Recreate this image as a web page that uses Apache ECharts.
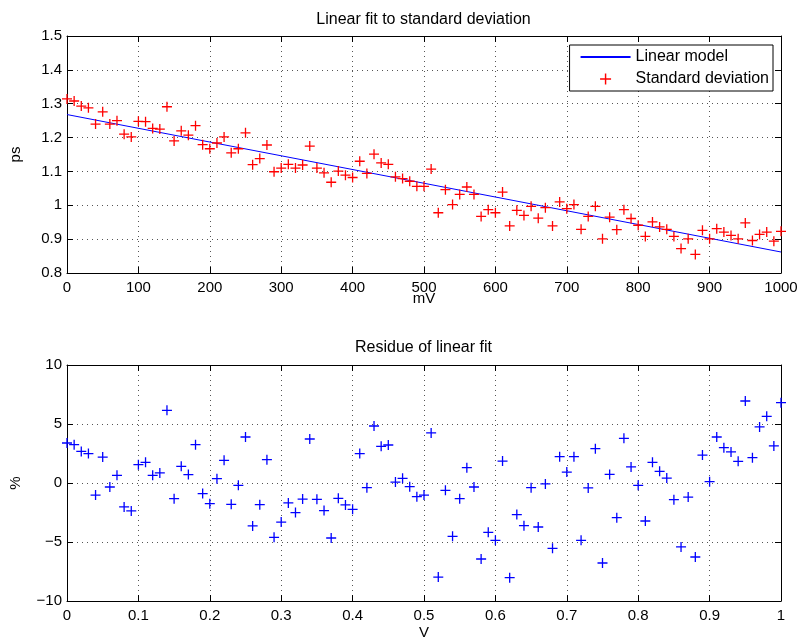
<!DOCTYPE html>
<html><head><meta charset="utf-8">
<script src="https://cdn.jsdelivr.net/npm/echarts@6/dist/echarts.min.js"></script>
<style>html,body{margin:0;padding:0;background:#fff}#c{width:801px;height:643px}</style>
</head><body><div id="c"></div>
<script>
// ---- data ----
const voltageMV = [0,10,20,30,40,50,60,70,80,90,100,110,120,130,140,150,160,170,180,190,200,210,220,230,240,250,260,270,280,290,300,310,320,330,340,350,360,370,380,390,400,410,420,430,440,450,460,470,480,490,500,510,520,530,540,550,560,570,580,590,600,610,620,630,640,650,660,670,680,690,700,710,720,730,740,750,760,770,780,790,800,810,820,830,840,850,860,870,880,890,900,910,920,930,940,950,960,970,980,990,1000];
const stdDevPs = [
1.314,1.308,1.293,1.288,1.240,1.276,1.240,1.250,1.210,1.202,
1.248,1.247,1.227,1.225,1.291,1.190,1.220,1.207,1.235,1.179,
1.167,1.184,1.202,1.155,1.167,1.214,1.120,1.138,1.178,1.099,
1.110,1.121,1.110,1.119,1.175,1.110,1.096,1.068,1.101,1.089,
1.082,1.130,1.094,1.151,1.125,1.121,1.084,1.079,1.071,1.056,
1.056,1.107,0.978,1.046,1.002,1.032,1.054,1.032,0.967,0.987,
0.978,1.039,0.939,0.985,0.970,0.997,0.962,0.993,0.939,1.010,
0.990,1.002,0.929,0.967,0.997,0.901,0.965,0.928,0.987,0.961,
0.941,0.908,0.951,0.936,0.929,0.908,0.872,0.901,0.855,0.926,
0.901,0.931,0.921,0.911,0.901,0.948,0.896,0.914,0.921,0.894,0.923];
const modelMV = [0, 1000];
const modelPs = [1.268, 0.862];
const voltageV = [0,0.01,0.02,0.03,0.04,0.05,0.06,0.07,0.08,0.09,0.1,0.11,0.12,0.13,0.14,0.15,0.16,0.17,0.18,0.19,0.2,0.21,0.22,0.23,0.24,0.25,0.26,0.27,0.28,0.29,0.3,0.31,0.32,0.33,0.34,0.35,0.36,0.37,0.38,0.39,0.4,0.41,0.42,0.43,0.44,0.45,0.46,0.47,0.48,0.49,0.5,0.51,0.52,0.53,0.54,0.55,0.56,0.57,0.58,0.59,0.6,0.61,0.62,0.63,0.64,0.65,0.66,0.67,0.68,0.69,0.7,0.71,0.72,0.73,0.74,0.75,0.76,0.77,0.78,0.79,0.8,0.81,0.82,0.83,0.84,0.85,0.86,0.87,0.88,0.89,0.9,0.91,0.92,0.93,0.94,0.95,0.96,0.97,0.98,0.99,1];
const residuePct = [
3.39,3.25,2.68,2.49,-1.02,2.20,-0.34,0.65,-2.03,-2.37,
1.55,1.75,0.65,0.85,6.16,-1.33,1.41,0.71,3.25,-0.90,
-1.75,0.37,1.92,-1.81,-0.20,3.90,-3.64,-1.84,1.98,-4.60,
-3.31,-1.69,-2.51,-1.36,3.73,-1.38,-2.34,-4.66,-1.30,-1.86,
-2.23,2.49,-0.40,4.83,3.11,3.22,0.08,0.40,-0.31,-1.16,
-1.02,4.24,-7.97,-0.62,-4.52,-1.33,1.30,-0.34,-6.44,-4.18,
-4.86,1.86,-8.02,-2.68,-3.62,-0.40,-3.73,-0.08,-5.54,2.23,
0.93,2.23,-4.86,-0.42,2.91,-6.78,0.73,-2.94,3.79,1.36,
-0.20,-3.22,1.75,0.99,0.42,-1.41,-5.42,-1.19,-6.27,2.37,
0.11,3.90,2.99,2.63,1.84,6.95,2.15,4.75,5.65,3.14,6.81];
const titles = ['Linear fit to standard deviation', 'Residue of linear fit'];
const legendNames = ['Linear model', 'Standard deviation'];

// ---- chart ----
const FONT = "'Liberation Sans', Arial, Helvetica, sans-serif";
const PLUS = 'path://M4.35,0H5.65V4.35H10V5.65H5.65V10H4.35V5.65H0V4.35H4.35Z';
const pair = (xs, ys) => xs.map((x, i) => [x, ys[i]]);
const fmtNum = v => String(v).replace('-', '\u2212');

function mainX(grid, min, max, interval, name, nameGap) {
  return {
    type: 'value', gridIndex: grid, position: 'bottom', min, max, interval,
    name, nameLocation: 'middle', nameGap, nameMoveOverlap: false,
    nameTextStyle: { color: '#000', fontSize: 15, fontFamily: FONT },
    axisLine: { show: true, onZero: false, lineStyle: { color: '#000', width: 1 } },
    axisTick: { show: true, inside: true, length: 6, lineStyle: { color: '#000' } },
    axisLabel: { show: true, color: '#000', fontSize: 15, fontFamily: FONT, margin: 7, formatter: fmtNum },
    splitLine: { show: true, lineStyle: { color: '#555', type: [1, 4], width: 1 } }
  };
}
function boxX(grid, min, max, interval) {
  return {
    type: 'value', gridIndex: grid, position: 'top', min, max, interval,
    axisLine: { show: true, onZero: false, lineStyle: { color: '#000', width: 1 } },
    axisTick: { show: true, inside: true, length: 6, lineStyle: { color: '#000' } },
    axisLabel: { show: false }, splitLine: { show: false }
  };
}
function mainY(grid, min, max, interval, name, nameGap) {
  return {
    type: 'value', gridIndex: grid, position: 'left', min, max, interval,
    name, nameLocation: 'middle', nameGap, nameMoveOverlap: false,
    nameTextStyle: { color: '#000', fontSize: 15, fontFamily: FONT },
    axisLine: { show: true, onZero: false, lineStyle: { color: '#000', width: 1 } },
    axisTick: { show: true, inside: true, length: 6, lineStyle: { color: '#000' } },
    axisLabel: { show: true, color: '#000', fontSize: 15, fontFamily: FONT, margin: 5, formatter: fmtNum },
    splitLine: { show: true, lineStyle: { color: '#555', type: [1, 4], width: 1 } }
  };
}
function boxY(grid, min, max, interval) {
  return {
    type: 'value', gridIndex: grid, position: 'right', min, max, interval,
    axisLine: { show: true, onZero: false, lineStyle: { color: '#000', width: 1 } },
    axisTick: { show: true, inside: true, length: 6, lineStyle: { color: '#000' } },
    axisLabel: { show: false }, splitLine: { show: false }
  };
}

const chart = echarts.init(document.getElementById('c'), null, { renderer: 'canvas' });
chart.setOption({
  animation: false,
  backgroundColor: '#fff',
  textStyle: { fontFamily: FONT },
  title: [
    { text: titles[0], left: 423.5, top: 12, textAlign: 'center', padding: 0,
      textStyle: { color: '#000', fontSize: 16, fontWeight: 'normal', fontFamily: FONT } },
    { text: titles[1], left: 423.5, top: 340, textAlign: 'center', padding: 0,
      textStyle: { color: '#000', fontSize: 16, fontWeight: 'normal', fontFamily: FONT } }
  ],
  legend: {
    show: true, orient: 'vertical', right: 28, top: 45,
    backgroundColor: '#fff', borderColor: '#000', borderWidth: 1, borderRadius: 0,
    padding: [4, 4, 4, 10], itemWidth: 50, itemHeight: 11, itemGap: 6,
    selectedMode: false,
    textStyle: { color: '#000', fontSize: 16, fontFamily: FONT },
    data: [
      { name: legendNames[0] },
      { name: legendNames[1], icon: PLUS }
    ]
  },
  grid: [
    { left: 66, top: 36, width: 715, height: 237, containLabel: false },
    { left: 66, top: 365, width: 715, height: 236, containLabel: false }
  ],
  xAxis: [
    mainX(0, 0, 1000, 100, 'mV', 18),
    boxX(0, 0, 1000, 100),
    mainX(1, 0, 1, 0.1, 'V', 24),
    boxX(1, 0, 1, 0.1)
  ],
  yAxis: [
    mainY(0, 0.8, 1.5, 0.1, 'ps', 44),
    boxY(0, 0.8, 1.5, 0.1),
    mainY(1, -10, 10, 5, '%', 44),
    boxY(1, -10, 10, 5)
  ],
  series: [
    { name: legendNames[0], type: 'line', xAxisIndex: 0, yAxisIndex: 0,
      data: pair(modelMV, modelPs), symbol: 'none', z: 3,
      lineStyle: { color: '#0000ff', width: 1 }, itemStyle: { color: 'rgba(0,0,0,0)' } },
    { name: legendNames[1], type: 'scatter', xAxisIndex: 0, yAxisIndex: 0,
      data: pair(voltageMV, stdDevPs), symbol: PLUS, symbolSize: 10, symbolKeepAspect: true, z: 4,
      itemStyle: { color: '#ff0000', opacity: 1 } },
    { name: 'Residue', type: 'scatter', xAxisIndex: 2, yAxisIndex: 2,
      data: pair(voltageV, residuePct), symbol: PLUS, symbolSize: 10, symbolKeepAspect: true,
      itemStyle: { color: '#0000ff', opacity: 1 } }
  ]
});
</script>
</body></html>
